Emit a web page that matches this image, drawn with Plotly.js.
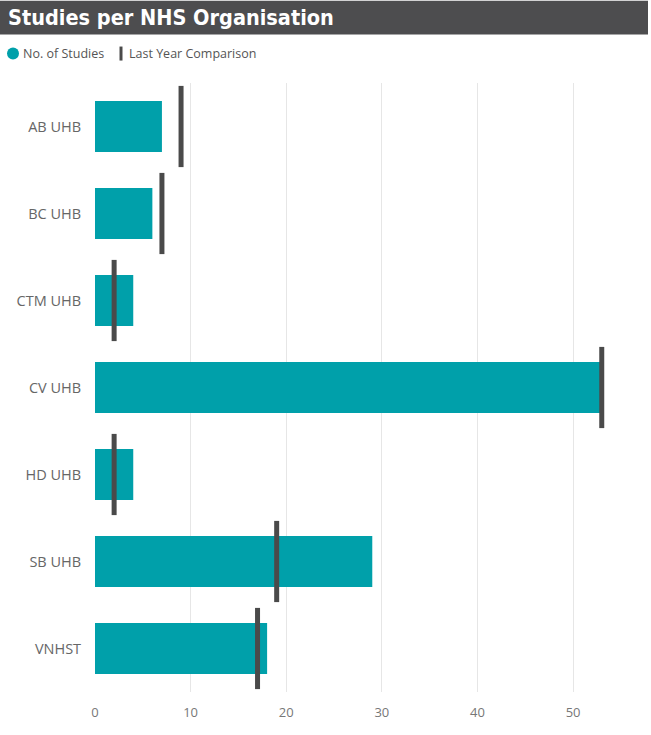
<!DOCTYPE html>
<html>
<head>
<meta charset="utf-8">
<script src="https://cdn.plot.ly/plotly-3.0.1.min.js"></script>
<style>html,body{margin:0;padding:0;background:#fff;}#chart{width:651px;height:735px;}</style>
</head>
<body>
<div id="chart"></div>
<script>
var categories = ["AB UHB", "BC UHB", "CTM UHB", "CV UHB", "HD UHB", "SB UHB", "VNHST"];
var studies = [7, 6, 4, 53, 4, 29, 18];
var lastYear = [9, 7, 2, 53, 2, 19, 17];
var xTicks = [0, 10, 20, 30, 40, 50];

var teal = "#00a0aa";
var dark = "#4a4a4a";

var W = 651, H = 735;
var mL = 95, mR = 11, mT = 82.5, mB = 42.5;
var pw = W - mL - mR, ph = H - mT - mB;
function px(x){ return (x - mL) / pw; }
function py(y){ return (H - mB - y) / ph; }

var traces = [
  {
    type: "bar", orientation: "h",
    y: categories, x: studies,
    width: 0.585,
    marker: {color: teal},
    name: "No. of Studies",
    hoverinfo: "x+y",
    showlegend: false
  },
  {
    type: "scatter", mode: "markers",
    y: categories, x: lastYear,
    marker: {symbol: "line-ns", size: 58, color: dark, line: {width: 5, color: dark}},
    name: "Last Year Comparison",
    showlegend: false
  }
];

var layout = {
  width: W, height: H,
  margin: {l: mL, r: mR, t: mT, b: mB, pad: 0},
  paper_bgcolor: "#ffffff",
  plot_bgcolor: "#ffffff",
  font: {family: "Open Sans, sans-serif", color: "#666666"},
  title: {
    text: "Studies per NHS Organisation",
    font: {family: "DejaVu Sans Condensed", size: 21.5, color: "#ffffff", weight: "bold"},
    xref: "container", yref: "container",
    x: 8 / W, xanchor: "left",
    y: 1 - 17 / H, yanchor: "middle"
  },
  xaxis: {
    range: [0, 57],
    tickvals: xTicks,
    ticktext: xTicks.map(String),
    showgrid: true, gridcolor: "#e6e6e6", gridwidth: 1,
    zeroline: false, showline: false,
    ticks: "outside", ticklen: 8, tickcolor: "rgba(0,0,0,0)",
    tickfont: {family: "Open Sans, sans-serif", size: 13, color: "#777777"},
    fixedrange: true
  },
  yaxis: {
    type: "category",
    categoryorder: "array", categoryarray: categories,
    range: [6.5, -0.5],
    autorange: false,
    showgrid: false, zeroline: false, showline: false,
    ticks: "outside", ticklen: 10, tickcolor: "rgba(0,0,0,0)",
    tickfont: {family: "Open Sans, sans-serif", size: 14.5, color: "#666666"},
    fixedrange: true
  },
  showlegend: false,
  shapes: [
    {type: "rect", xref: "paper", yref: "paper", layer: "below",
     x0: px(0), x1: px(648), y0: py(0), y1: py(34),
     fillcolor: "#4d4d4f", line: {width: 0}},
    {type: "circle", xref: "paper", yref: "paper",
     xsizemode: "pixel", ysizemode: "pixel",
     xanchor: px(13), yanchor: py(53),
     x0: -6, x1: 6, y0: -6, y1: 6,
     fillcolor: teal, line: {width: 0}},
    {type: "rect", xref: "paper", yref: "paper",
     xsizemode: "pixel", ysizemode: "pixel",
     xanchor: px(121), yanchor: py(53),
     x0: -1.5, x1: 1.5, y0: -7, y1: 7,
     fillcolor: dark, line: {width: 0}}
  ],
  annotations: [
    {text: "No. of Studies", xref: "paper", yref: "paper",
     x: px(21), y: py(53), xanchor: "left", yanchor: "middle", showarrow: false,
     font: {family: "Open Sans, sans-serif", size: 12.5, color: "#555555"}},
    {text: "Last Year Comparison", xref: "paper", yref: "paper",
     x: px(127), y: py(53), xanchor: "left", yanchor: "middle", showarrow: false,
     font: {family: "Open Sans, sans-serif", size: 12.5, color: "#555555"}}
  ]
};

Plotly.newPlot("chart", traces, layout, {displayModeBar: false, staticPlot: true});
</script>
</body>
</html>
